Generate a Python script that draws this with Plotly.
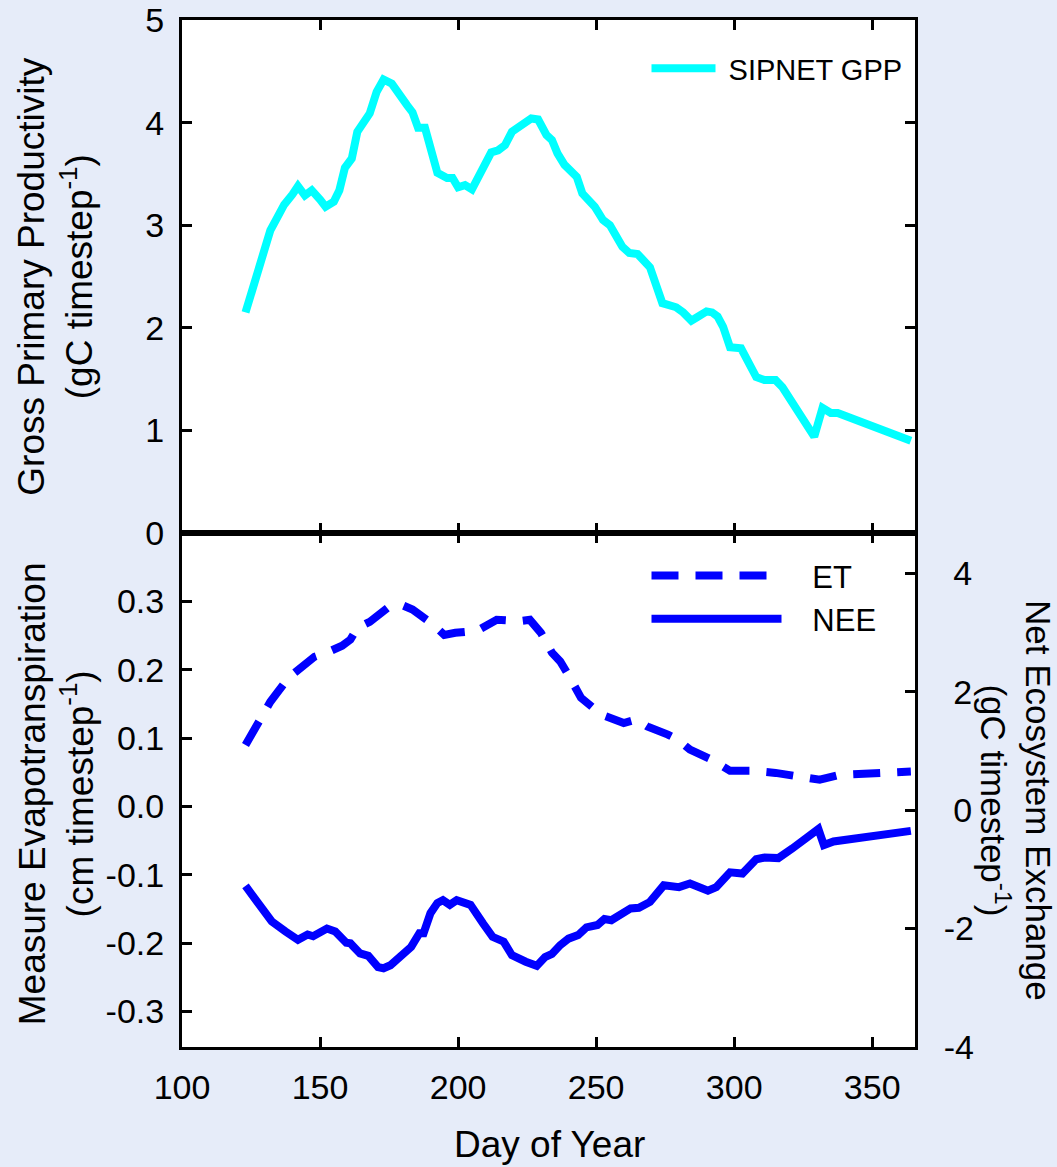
import plotly.graph_objects as go

# ---------------- data ----------------
gpp_day = [123, 132, 134, 137, 140, 142, 144.5, 147, 150, 152, 155, 157, 159, 161.5, 163.5,
           165.5, 168, 170.5, 173, 176, 179, 181.5, 183.5, 185.5, 188, 190.5, 192.5, 196,
           198, 200, 202.5, 205, 208, 210, 212, 214.5, 217, 219.5, 223.5, 226.5, 229, 232,
           234, 236, 238.5, 240.5, 243, 245, 249.5, 252.5, 255, 259.5, 262, 265, 269.5,
           274, 279, 281.5, 284.5, 287, 290, 292, 294, 296, 298.5, 302.5, 305, 308, 311,
           315, 317.5, 321, 329, 332, 335, 337.5, 348, 364]
gpp_val = [2.15, 2.95, 3.05, 3.20, 3.30, 3.38, 3.29, 3.34, 3.25, 3.18, 3.23, 3.34, 3.56, 3.65,
           3.91, 3.98, 4.09, 4.30, 4.42, 4.38, 4.25, 4.17, 4.10, 3.95, 3.95, 3.66, 3.51, 3.46,
           3.46, 3.37, 3.39, 3.35, 3.49, 3.59, 3.71, 3.73, 3.78, 3.91, 3.98, 4.04, 4.03, 3.88,
           3.83, 3.70, 3.59, 3.54, 3.47, 3.31, 3.18, 3.05, 3.00, 2.79, 2.73, 2.72, 2.59,
           2.24, 2.20, 2.15, 2.07, 2.11, 2.16, 2.15, 2.11, 2.01, 1.81, 1.80, 1.67, 1.52, 1.49,
           1.49, 1.42, 1.27, 0.94, 1.22, 1.17, 1.17, 1.07, 0.90]

et_day = [123, 128, 132, 138.5, 145, 148, 153, 158, 161, 163.5, 168, 175, 180, 183.5, 191,
          195, 199, 207, 214, 222, 226, 230, 234, 237, 240, 244.5, 252, 260, 264.5, 268.5,
          276, 279.5, 284, 292, 298.5, 306.5, 315, 322.5, 331, 338, 346.5, 354, 364]
et_val = [0.090, 0.124, 0.153, 0.188, 0.207, 0.219, 0.226, 0.235, 0.244, 0.261, 0.270, 0.292,
          0.294, 0.288, 0.266, 0.251, 0.254, 0.257, 0.273, 0.271, 0.273, 0.254, 0.225, 0.212,
          0.192, 0.159, 0.134, 0.122, 0.127, 0.117, 0.105, 0.098, 0.083, 0.068, 0.052, 0.052,
          0.049, 0.043, 0.039, 0.046, 0.048, 0.049, 0.051]

nee_day = [123, 132.5, 137.5, 142, 145.5, 147.5, 152.5, 155.5, 159.5, 161, 164.5, 167.5, 171,
           173, 175.5, 183, 186, 187.5, 190, 192.5, 194.5, 197, 199.5, 202, 204.5, 209,
           212.5, 216.5, 219.5, 224.5, 228.5, 231.5, 234, 237, 240, 243.5, 246.5, 250.5,
           253, 255.5, 259.5, 262.5, 265.5, 269.5, 274.5, 280, 284, 286.5, 290.5, 293.5,
           298.5, 303, 308, 311, 316, 321, 330.5, 332.5, 336, 364]
nee_val = [-1.28, -1.88, -2.05, -2.19, -2.10, -2.13, -2.00, -2.05, -2.24, -2.25, -2.42, -2.46,
           -2.65, -2.67, -2.62, -2.31, -2.08, -2.08, -1.74, -1.57, -1.52, -1.60, -1.52, -1.57,
           -1.60, -1.91, -2.14, -2.22, -2.45, -2.56, -2.63, -2.48, -2.43, -2.28, -2.17, -2.11,
           -1.98, -1.94, -1.84, -1.86, -1.73, -1.66, -1.65, -1.55, -1.27, -1.30, -1.24, -1.28,
           -1.36, -1.30, -1.05, -1.07, -0.83, -0.80, -0.81, -0.65, -0.32, -0.59, -0.53, -0.35]

x_ticks = [100, 150, 200, 250, 300, 350]
gpp_ticks = [0, 1, 2, 3, 4, 5]
et_ticks = [-0.3, -0.2, -0.1, 0.0, 0.1, 0.2, 0.3]
et_ticktext = ["-0.3", "-0.2", "-0.1", "0.0", "0.1", "0.2", "0.3"]
nee_ticks = [-4, -2, 0, 2, 4]
nee_ticktext = ["-4", "-2", "\u00a00", "\u00a02", "\u00a04"]

# ---------------- styling ----------------
FONT = "Liberation Sans, Arial, sans-serif"
BG = "#e6ecf9"
TICK_SIZE = 34
TITLE_SIZE = 37

axis_common = dict(showline=True, linecolor="black", linewidth=3, ticks="inside",
                   ticklen=10, tickwidth=3, tickcolor="black", showgrid=False,
                   zeroline=False, automargin=False,
                   tickfont=dict(family=FONT, size=TICK_SIZE, color="black"))

fig = go.Figure()
fig.add_trace(go.Scatter(x=gpp_day, y=gpp_val, mode="lines", name="\u00a0SIPNET GPP",
                         line=dict(color="#00ffff", width=8), xaxis="x", yaxis="y",
                         legend="legend"))
fig.add_trace(go.Scatter(x=et_day, y=et_val, mode="lines", name="\u00a0\u00a0\u00a0ET",
                         line=dict(color="#0000ff", width=8, dash="27px,17px"),
                         xaxis="x2", yaxis="y2", legend="legend2"))
fig.add_trace(go.Scatter(x=nee_day, y=nee_val, mode="lines", name="\u00a0\u00a0\u00a0NEE",
                         line=dict(color="#0000ff", width=8), xaxis="x2", yaxis="y3",
                         legend="legend2"))

split = 0.5005
fig.update_layout(
    width=1057, height=1167,
    margin=dict(l=182, r=142, t=20, b=120),
    paper_bgcolor=BG, plot_bgcolor="white",
    font=dict(family=FONT, color="black"),
    xaxis=dict(domain=[0, 1], anchor="y", range=[100, 365.5], tickvals=x_ticks,
               showticklabels=False, mirror="ticks", **axis_common),
    yaxis=dict(domain=[split, 1], anchor="x", range=[0, 5], tickvals=gpp_ticks,
               mirror="ticks", ticklabelstandoff=8, **axis_common),
    xaxis2=dict(domain=[0, 1], anchor="y2", range=[100, 365.5], tickvals=x_ticks,
                mirror="ticks", ticklabelstandoff=8, **axis_common),
    yaxis2=dict(domain=[0, split], anchor="x2", range=[-0.352, 0.4], tickvals=et_ticks,
                ticktext=et_ticktext, ticklabelstandoff=8, **axis_common),
    yaxis3=dict(overlaying="y2", anchor="x2", side="right", range=[-4.0, 4.68],
                tickvals=nee_ticks, ticktext=nee_ticktext, ticklabelstandoff=19,
                **axis_common),
    legend=dict(x=0.6337, y=0.9776, xanchor="left", yanchor="top", bgcolor="rgba(0,0,0,0)",
                font=dict(family=FONT, size=29), itemwidth=64),
    legend2=dict(x=0.6337, y=0.485, xanchor="left", yanchor="top", bgcolor="rgba(0,0,0,0)",
                 font=dict(family=FONT, size=31), itemwidth=130, tracegroupgap=0),
    showlegend=True,
)

ann = dict(showarrow=False, xref="paper", yref="paper",
           font=dict(family=FONT, size=TITLE_SIZE, color="black"))
fig.add_annotation(text="Gross Primary Productivity<br>(gC timestep<sup>-1</sup>)",
                   x=-0.172, y=0.75, textangle=-90, xanchor="center", yanchor="middle", **ann)
fig.add_annotation(text="Measure Evapotranspiration<br>(cm timestep<sup>-1</sup>)",
                   x=-0.172, y=0.247, textangle=-90, xanchor="center", yanchor="middle", **ann)
fig.add_annotation(text="Net Ecosystem Exchange<br>(gC timestep<sup>-1</sup>)",
                   x=1.1378, y=0.2405, textangle=90, xanchor="center", yanchor="middle",
                   showarrow=False, xref="paper", yref="paper",
                   font=dict(family=FONT, size=35, color="black"))
fig.add_annotation(text="Day of Year", x=0.5007, y=-0.0954, xanchor="center",
                   yanchor="middle", **ann)

fig.write_html("out.html")
